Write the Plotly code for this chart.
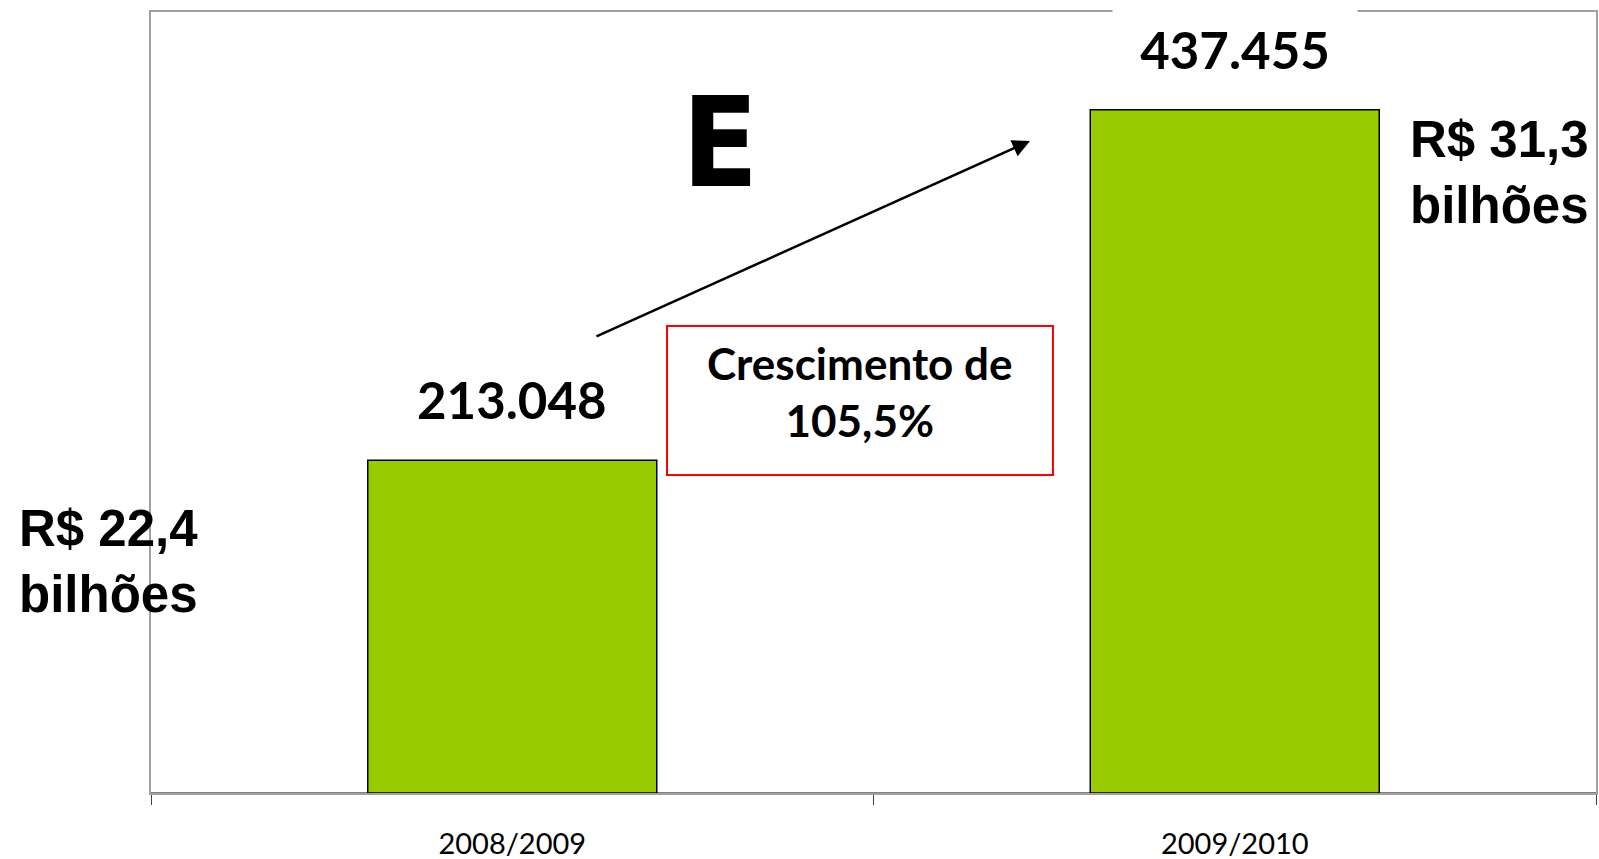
import plotly.graph_objects as go

categories = ["2008/2009", "2009/2010"]
values = [213048, 437455]
value_labels = ["213.048", "437.455"]
money_labels = ["R$ 22,4<br>bilhões", "R$ 31,3<br>bilhões"]
growth_label = "Crescimento de<br>105,5%"
letter_label = "E"

fig = go.Figure()
fig.add_trace(go.Bar(
    x=categories, y=values,
    marker=dict(color="#99CC00", line=dict(color="black", width=1.5)),
    width=0.4, hoverinfo="skip",
))

# value labels above bars
for i, (c, v) in enumerate(zip(categories, values)):
    fig.add_annotation(
        x=c, y=v, xref="x", yref="y", text=f"<b>{value_labels[i]}</b>",
        showarrow=False, yanchor="middle", yshift=61,
        font=dict(family="Lato", size=51, color="black"),
        bgcolor="white" if i == 1 else "rgba(0,0,0,0)",
        width=242 if i == 1 else None, height=92 if i == 1 else None,
    )

# money labels
fig.add_annotation(x=-0.0927, y=0.297, xref="paper", yref="paper",
                   text=f"<b>{money_labels[0]}</b>", showarrow=False,
                   xanchor="left", yanchor="middle", align="left",
                   font=dict(family="Liberation Sans", size=51, color="black"))
fig.add_annotation(x=0.870, y=0.795, xref="paper", yref="paper",
                   text=f"<b>{money_labels[1]}</b>", showarrow=False,
                   xanchor="left", yanchor="middle", align="left",
                   font=dict(family="Liberation Sans", size=51, color="black"))

# big letter
fig.add_annotation(x=0.3938, y=0.832, xref="paper", yref="paper",
                   text=f"<b>{letter_label}</b>", showarrow=False,
                   xanchor="center", yanchor="middle",
                   font=dict(family="Liberation Sans Narrow, DejaVu Sans Condensed, sans-serif",
                             size=124, color="black"))

# arrow
fig.add_annotation(x=0.6083, y=0.8348, xref="paper", yref="paper",
                   ax=-435, ay=196, axref="pixel", ayref="pixel",
                   text="", showarrow=True, arrowhead=2, arrowsize=1.4,
                   arrowwidth=2.5, arrowcolor="black", standoff=0)

# growth box
fig.add_shape(type="rect", xref="paper", yref="paper",
              x0=0.3571, x1=0.6242, y0=0.4072, y1=0.598,
              line=dict(color="#FF0000", width=2), fillcolor="rgba(0,0,0,0)")
fig.add_annotation(x=0.4907, y=0.5147, xref="paper", yref="paper",
                   text=f"<b>{growth_label}</b>", showarrow=False,
                   xanchor="center", yanchor="middle", align="center",
                   font=dict(family="Lato", size=44, color="black"))

fig.update_layout(
    width=1599, height=859,
    margin=dict(l=151, r=3, t=12, b=66, autoexpand=False),
    plot_bgcolor="white", paper_bgcolor="white",
    showlegend=False,
    bargap=0.6,
)
fig.update_xaxes(
    type="category", showline=True, linecolor="#A0A0A0", linewidth=1.5, mirror=True,
    tickson="boundaries", ticks="outside", ticklen=10, tickcolor="#404040", tickwidth=1,
    showgrid=False, ticklabelstandoff=24, automargin=False,
    tickfont=dict(family="Lato", size=29, color="black"),
)
fig.update_yaxes(
    range=[0, 500000], showline=True, linecolor="#A0A0A0", linewidth=1.5, mirror=True,
    showgrid=False, showticklabels=False, ticks="", automargin=False,
    zeroline=True, zerolinecolor="#808080", zerolinewidth=2,
)

fig.write_html(
    "out.html",
    config={"displayModeBar": False},
    post_script="document.body.style.margin='0';document.body.style.overflow='hidden';",
)
